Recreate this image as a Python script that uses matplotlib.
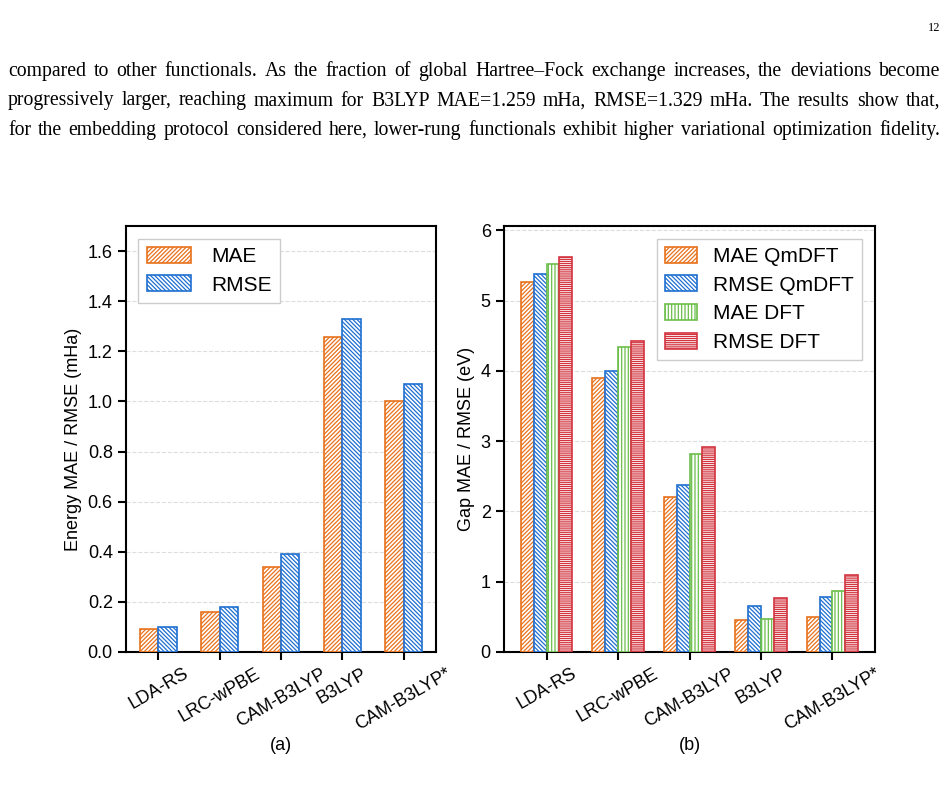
import matplotlib
matplotlib.use('Agg')
import matplotlib.pyplot as plt
import numpy as np

# ---------------- data ----------------
functionals = ['LDA-RS', 'LRC-wPBE', 'CAM-B3LYP', 'B3LYP', 'CAM-B3LYP*']
energy_mae = [0.09, 0.16, 0.34, 1.259, 1.00]
energy_rmse = [0.10, 0.18, 0.39, 1.329, 1.07]
gap_mae_qmdft = [5.27, 3.90, 2.21, 0.46, 0.50]
gap_rmse_qmdft = [5.38, 4.00, 2.38, 0.65, 0.78]
gap_mae_dft = [5.52, 4.34, 2.81, 0.47, 0.87]
gap_rmse_dft = [5.62, 4.43, 2.92, 0.77, 1.09]
energy_yticks = [0.0, 0.2, 0.4, 0.6, 0.8, 1.0, 1.2, 1.4, 1.6]
gap_yticks = [0, 1, 2, 3, 4, 5, 6]
paragraph = [
    "compared to other functionals. As the fraction of global Hartree\u2013Fock exchange increases, the deviations become",
    "progressively larger, reaching maximum for B3LYP MAE=1.259 mHa, RMSE=1.329 mHa. The results show that,",
    "for the embedding protocol considered here, lower-rung functionals exhibit higher variational optimization fidelity.",
]
page_number = "12"

# ---------------- style ----------------
plt.rcParams['font.family'] = ['Liberation Sans', 'DejaVu Sans']
plt.rcParams['hatch.linewidth'] = 0.9

ORANGE = '#e8711c'
BLUE = '#1f6fd1'
GREEN = '#6cbf4b'
RED = '#d3343f'

W, H = 948, 796
fig = plt.figure(figsize=(W / 100, H / 100), dpi=100)


def rect(x0, x1, y0, y1):
    return [x0 / W, 1 - y1 / H, (x1 - x0) / W, (y1 - y0) / H]


ax1 = fig.add_axes(rect(126, 436, 226, 652))
ax2 = fig.add_axes(rect(504, 875, 226, 652))

x = np.arange(len(functionals))

# ---- left: energy ----
w1 = 0.3
ax1.bar(x - w1 / 2, energy_mae, w1, facecolor='white', edgecolor=ORANGE,
        hatch='////////', linewidth=1.2, label='MAE', zorder=3)
ax1.bar(x + w1 / 2, energy_rmse, w1, facecolor='white', edgecolor=BLUE,
        hatch='\\\\\\\\\\\\\\\\', linewidth=1.2, label='RMSE', zorder=3)
ax1.set_ylim(0, 1.70)
ax1.set_yticks(energy_yticks)
ax1.set_yticklabels([f'{v:.1f}' for v in energy_yticks])
ax1.set_ylabel('Energy MAE / RMSE (mHa)', fontsize=13)
ax1.legend(loc='upper left', fontsize=15, fancybox=False, framealpha=1,
           edgecolor='#cccccc', handlelength=2.1, handleheight=0.8,
           handletextpad=1.0, labelspacing=0.45, borderaxespad=0.6)

# ---- right: gap ----
w2 = 0.18
series = [
    (gap_mae_qmdft, ORANGE, '////////', 'MAE QmDFT'),
    (gap_rmse_qmdft, BLUE, '\\\\\\\\\\\\\\\\', 'RMSE QmDFT'),
    (gap_mae_dft, GREEN, '|||||', 'MAE DFT'),
    (gap_rmse_dft, RED, '--------', 'RMSE DFT'),
]
for i, (vals, col, hat, lab) in enumerate(series):
    ax2.bar(x + (i - 1.5) * w2, vals, w2, facecolor='white', edgecolor=col,
            hatch=hat, linewidth=1.2, label=lab, zorder=3)
ax2.set_ylim(0, 6.06)
ax2.set_yticks(gap_yticks)
ax2.set_ylabel('Gap MAE / RMSE (eV)', fontsize=13)
ax2.legend(loc='upper right', fontsize=15, fancybox=False, framealpha=1,
           edgecolor='#cccccc', handlelength=1.5, handleheight=0.8,
           handletextpad=0.8, labelspacing=0.45, borderaxespad=0.6)

for ax in (ax1, ax2):
    ax.set_xticks(x)
    ax.set_xticklabels(functionals, rotation=30, ha='center')
    ax.tick_params(direction='out', length=6, width=1.5, labelsize=13)
    for s in ax.spines.values():
        s.set_linewidth(1.5)
    ax.yaxis.grid(True, linestyle='--', color='#dddddd', linewidth=0.8)
    ax.set_axisbelow(True)

fig.text(281 / W, 1 - 745 / H, '(a)', ha='center', va='center', fontsize=13)
fig.text(690 / W, 1 - 745 / H, '(b)', ha='center', va='center', fontsize=13)

# ---- page text (justified) ----
fig.text(940 / W, 1 - 28 / H, page_number, ha='right', va='center',
         fontsize=9, family='Liberation Serif')

renderer = fig.canvas.get_renderer()
x_left, x_right = 8, 940
baselines = [76, 105.5, 135]
for line, yb in zip(paragraph, baselines):
    words = line.split(' ')
    texts = [fig.text(0, 0, wd, fontsize=14.2, family='Liberation Serif',
                      va='baseline', ha='left') for wd in words]
    widths = [t.get_window_extent(renderer).width for t in texts]
    gap = (x_right - x_left - sum(widths)) / (len(words) - 1)
    xp = x_left
    for t, wd in zip(texts, widths):
        t.set_position((xp / W, 1 - yb / H))
        xp += wd + gap

fig.savefig('out.png', dpi=100)
